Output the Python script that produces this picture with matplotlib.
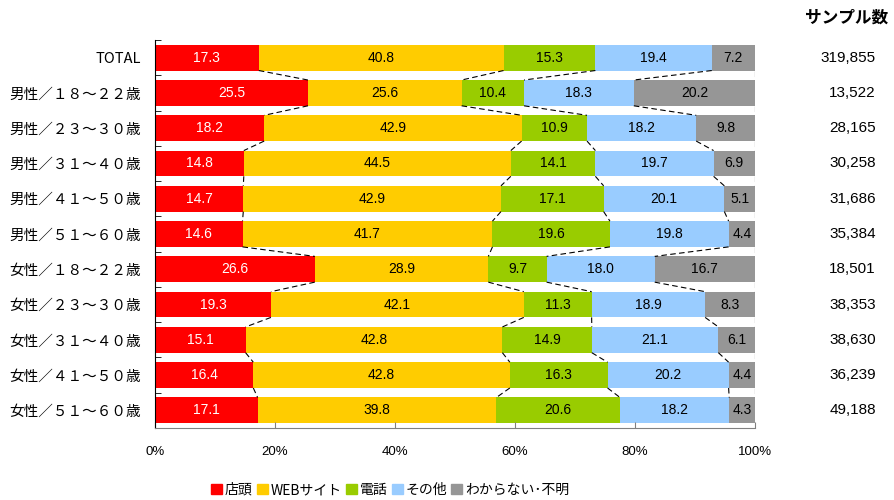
import numpy as np
import matplotlib
matplotlib.use("Agg")
import matplotlib.pyplot as plt
from matplotlib.patches import Patch

plt.rcParams['font.family'] = ['Noto Sans CJK JP', 'DejaVu Sans']

categories = ["TOTAL", "男性／１８～２２歳", "男性／２３～３０歳", "男性／３１～４０歳",
              "男性／４１～５０歳", "男性／５１～６０歳", "女性／１８～２２歳",
              "女性／２３～３０歳", "女性／３１～４０歳", "女性／４１～５０歳",
              "女性／５１～６０歳"]
series = ["店頭", "WEBサイト", "電話", "その他", "わからない･不明"]
store = [17.3, 25.5, 18.2, 14.8, 14.7, 14.6, 26.6, 19.3, 15.1, 16.4, 17.1]
web = [40.8, 25.6, 42.9, 44.5, 42.9, 41.7, 28.9, 42.1, 42.8, 42.8, 39.8]
phone = [15.3, 10.4, 10.9, 14.1, 17.1, 19.6, 9.7, 11.3, 14.9, 16.3, 20.6]
other = [19.4, 18.3, 18.2, 19.7, 20.1, 19.8, 18.0, 18.9, 21.1, 20.2, 18.2]
unknown = [7.2, 20.2, 9.8, 6.9, 5.1, 4.4, 16.7, 8.3, 6.1, 4.4, 4.3]
samples = ["319,855", "13,522", "28,165", "30,258", "31,686", "35,384",
           "18,501", "38,353", "38,630", "36,239", "49,188"]
colors = ["#FF0000", "#FFCC00", "#99CC00", "#99CCFF", "#969696"]
text_colors = ["white", "black", "black", "black", "black"]

num_font = ["Liberation Sans", "DejaVu Sans"]

data = np.array([store, web, phone, other, unknown])
totals = data.sum(axis=0)
pct = data / totals * 100
cum = np.cumsum(pct, axis=0)
left = cum - pct

fig = plt.figure(figsize=(8.95, 5), dpi=100)
ax = fig.add_axes([155 / 895, 1 - 428 / 500, 600 / 895, 388 / 500])

y = np.arange(len(categories))
h = 0.73
for i in range(len(series)):
    ax.barh(y, pct[i], left=left[i], height=h, color=colors[i], label=series[i])
    for j in range(len(categories)):
        ax.text(left[i][j] + pct[i][j] / 2, y[j], f"{data[i][j]:.1f}",
                ha="center", va="center", fontsize=10, color=text_colors[i],
                family=num_font)

# dashed connectors between bars
for i in range(len(series)):
    for j in range(len(categories) - 1):
        ax.plot([cum[i][j], cum[i][j + 1]], [y[j] + h / 2, y[j + 1] - h / 2],
                color="black", lw=0.8, ls=(0, (5, 3)))

ax.set_xlim(0, 100)
ax.set_ylim(len(categories) - 0.5, -0.5)
ax.set_yticks(y)
ax.set_yticklabels(categories, fontsize=10.5)
ax.tick_params(axis="y", length=0, pad=10)
ax.set_yticks(np.arange(-0.5, len(categories), 1), minor=True)
ax.tick_params(axis="y", which="minor", direction="in", length=4, color="black")
ax.set_xticks(np.arange(0, 101, 20))
ax.set_xticklabels([f"{v}%" for v in range(0, 101, 20)], fontsize=9.5,
                   family=num_font)
ax.tick_params(axis="x", direction="in", length=4, pad=13, color="gray")
for s in ["top", "right"]:
    ax.spines[s].set_visible(False)
ax.spines["bottom"].set_color("gray")

fig.text(847 / 895, 1 - 18 / 500, "サンプル数", ha="center", va="center",
         fontsize=12, fontweight="bold")
for j in range(len(categories)):
    yy = ax.transData.transform((0, y[j]))[1]
    fig.text(876 / 895, yy / 500, samples[j], ha="right", va="center", fontsize=11,
             family=num_font)

handles = [Patch(color=c) for c in colors]
fig.legend(handles, series, loc="center", bbox_to_anchor=(390 / 895, 1 - 490 / 500),
           ncol=5, frameon=False, fontsize=10, handlelength=0.8, handleheight=0.8,
           handletextpad=0.2, columnspacing=0.3)

fig.savefig("out.png", dpi=100)
